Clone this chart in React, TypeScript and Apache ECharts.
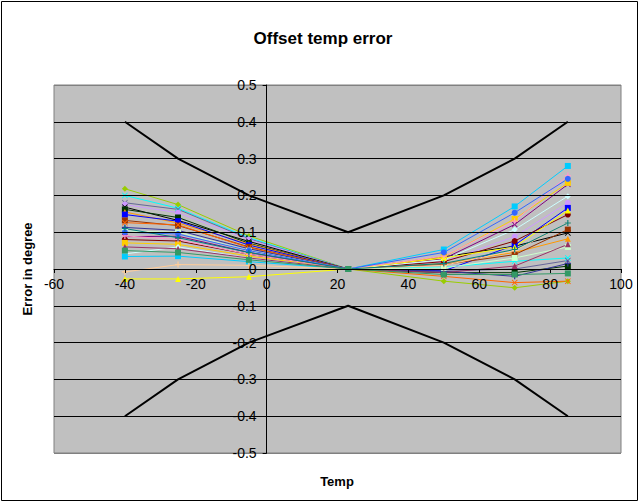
import React, { useEffect, useRef } from "react";
import * as echarts from "echarts";

const temps = [-40, -25, -5, 23, 50, 70, 85];

const limitTemps = [-40, -25, -5, 23, 50, 70, 85];
const upperLimit = [0.4, 0.3, 0.2, 0.1, 0.2, 0.3, 0.4];
const lowerLimit = [-0.4, -0.3, -0.2, -0.1, -0.2, -0.3, -0.4];

const xTicks = [-60, -40, -20, 0, 20, 40, 60, 80, 100];

const s01 = [0.218, 0.175, 0.09, 0, -0.033, -0.051, -0.033];
const s02 = [0.2, 0.165, 0.085, 0, 0.005, 0.021, 0.03];
const s03 = [0.18, 0.162, 0.082, 0, -0.006, 0.0, 0.023];
const s04 = [0.175, 0.153, 0.08, 0, 0.02, 0.088, 0.18];
const s05 = [0.168, 0.132, 0.075, 0, 0.033, 0.062, 0.098];
const s06 = [0.162, 0.14, 0.07, 0, -0.01, -0.01, 0.008];
const s07 = [0.155, 0.125, 0.068, 0, 0.015, 0.045, 0.082];
const s08 = [0.148, 0.13, 0.065, 0, -0.005, 0.065, 0.166];
const s09 = [0.132, 0.118, 0.06, 0, 0.012, 0.039, 0.107];
const s10 = [0.126, 0.12, 0.058, 0, -0.02, -0.037, -0.033];
const s11 = [0.113, 0.105, 0.055, 0, -0.006, -0.02, 0.015];
const s12 = [0.103, 0.1, 0.05, 0, 0.003, 0.03, 0.06];
const s13 = [0.088, 0.089, 0.045, 0, 0.028, 0.121, 0.23];
const s14 = [0.08, 0.076, 0.04, 0, 0.02, 0.076, 0.148];
const s15 = [0.071, 0.067, 0.035, 0, 0.033, 0.136, 0.234];
const s16 = [0.041, 0.06, 0.03, 0, 0.025, 0.107, 0.198];
const s17 = [0.034, 0.035, 0.02, 0, 0.053, 0.17, 0.28];
const s18 = [-0.008, 0.012, 0.01, 0, 0.01, 0.05, 0.125];
const s19 = [-0.027, -0.027, -0.021, 0, 0.03, 0.06, 0.159];
const s20 = [0.09, 0.08, 0.04, 0, 0.035, 0.13, 0.254];
const s21 = [0.1, 0.095, 0.05, 0, 0.045, 0.153, 0.245];
const s22 = [0.06, 0.055, 0.03, 0, -0.01, 0.008, 0.067];
const s23 = [0.11, 0.085, 0.045, 0, 0.015, 0.053, 0.125];
const s24 = [0.05, 0.045, 0.025, 0, -0.015, -0.015, -0.012];

const seriesValues = [s01, s02, s03, s04, s05, s06, s07, s08, s09, s10, s11, s12, s13, s14, s15, s16, s17, s18, s19, s20, s21, s22, s23, s24];

const X_SYM = "path://M0,1L1,0L5,4L9,0L10,1L6,5L10,9L9,10L5,6L1,10L0,9L4,5Z";
const PLUS_SYM = "path://M4,0H6V4H10V6H6V10H4V6H0V4H4Z";
const DASH_SYM = "path://M0,4H10V6H0Z";

const seriesColors = ["#99CC00", "#00FFFF", "#666699", "#CC99FF", "#000000", "#003300", "#FF9900", "#0000FF", "#993300", "#FF6600", "#333399", "#CCFFCC", "#800080", "#800000", "#FFCC00", "#CCFFFF", "#00CCFF", "#FFCC99", "#FFFF00", "#FF99CC", "#3366FF", "#993366", "#008080", "#339966"];
const seriesSymbols = ["diamond", X_SYM, X_SYM, "circle", X_SYM, "rect", "triangle", DASH_SYM, "rect", X_SYM, PLUS_SYM, "rect", X_SYM, "circle", "rect", "diamond", DASH_SYM, PLUS_SYM, "triangle", PLUS_SYM, "circle", "triangle", PLUS_SYM, "rect"];

const GRID_LEFT = 54;
const GRID_RIGHT = 19;
const GRID_TOP = 85;
const GRID_BOTTOM = 50;
const W = 640;
const H = 503;

export default function App() {
  const ref = useRef<HTMLDivElement>(null);
  useEffect(() => {
    if (!ref.current) return;
    const chart = echarts.init(ref.current, undefined, { renderer: "svg" });
    const font = "'Liberation Sans', Arial, sans-serif";
    const gridW = W - GRID_LEFT - GRID_RIGHT;
    const gridH = H - GRID_TOP - GRID_BOTTOM;
    const yOffset = -(gridW * 60) / 160;
    const xOffset = -gridH / 2;
    const gridColors = ["#808080", "#000", "#000", "#000", "#000", "#000", "#000", "#000", "#000", "#000", "#808080"];
    const dataSeries = seriesValues.map((vals, i) => ({
      type: "line",
      name: "S" + (i + 1),
      data: temps.map((t, j) => [t, vals[j]]),
      symbol: seriesSymbols[i],
      symbolSize: 6,
      lineStyle: { color: seriesColors[i], width: 1 },
      itemStyle: { color: seriesColors[i] },
      z: 3,
    }));
    chart.setOption({
      animation: false,
      backgroundColor: "#fff",
      title: {
        text: "Offset temp error",
        left: 318,
        textAlign: "center",
        top: 25,
        textStyle: { fontFamily: font, fontSize: 17, fontWeight: "bold", color: "#000" },
      },
      grid: {
        left: GRID_LEFT,
        right: GRID_RIGHT,
        top: GRID_TOP,
        bottom: GRID_BOTTOM,
        show: true,
        backgroundColor: "#C0C0C0",
        borderColor: "#808080",
        borderWidth: 1,
      },
      xAxis: {
        type: "value",
        min: -60,
        max: 100,
        interval: 20,
        offset: xOffset,
        z: 10,
        axisLine: { onZero: false, lineStyle: { color: "#000", width: 1 } },
        axisTick: { show: true, inside: false, length: 4, lineStyle: { color: "#000" } },
        axisLabel: {
          fontFamily: font,
          fontSize: 14,
          color: "#000",
          margin: 8,
          formatter: (v: number) => (xTicks.includes(v) ? String(v) : ""),
        },
        splitLine: { show: false },
      },
      yAxis: {
        type: "value",
        min: -0.5,
        max: 0.5,
        interval: 0.1,
        offset: yOffset,
        z: 10,
        axisLine: { onZero: false, lineStyle: { color: "#000", width: 1 } },
        axisTick: { show: true, inside: false, length: 4, lineStyle: { color: "#000" } },
        axisLabel: {
          fontFamily: font,
          fontSize: 14,
          color: "#000",
          margin: 10,
          formatter: (v: number) => String(Math.round(v * 10) / 10),
        },
        splitLine: { show: true, lineStyle: { color: gridColors, width: 1 } },
      },
      graphic: [
        {
          type: "rect",
          shape: { x: 1.5, y: 1.5, width: 636, height: 499 },
          style: { fill: "none", stroke: "#000", lineWidth: 1 },
          silent: true,
          z: 0,
        },
        {
          type: "text",
          x: 337,
          y: 481,
          style: { text: "Temp", font: "bold 13px 'Liberation Sans', Arial, sans-serif", fill: "#000", textAlign: "center", textVerticalAlign: "middle" },
        },
        {
          type: "text",
          x: 27,
          y: 269,
          rotation: Math.PI / 2,
          style: { text: "Error in degree", font: "bold 13px 'Liberation Sans', Arial, sans-serif", fill: "#000", textAlign: "center", textVerticalAlign: "middle" },
        },
      ],
      series: [
        ...dataSeries,
        {
          type: "line",
          name: "Upper limit",
          data: limitTemps.map((t, j) => [t, upperLimit[j]]),
          symbol: "none",
          lineStyle: { color: "#000", width: 2 },
          z: 4,
        },
        {
          type: "line",
          name: "Lower limit",
          data: limitTemps.map((t, j) => [t, lowerLimit[j]]),
          symbol: "none",
          lineStyle: { color: "#000", width: 2 },
          z: 4,
        },
      ],
    });
    return () => chart.dispose();
  }, []);
  return <div ref={ref} style={{ position: "fixed", left: 0, top: 0, width: W, height: H }} />;
}
